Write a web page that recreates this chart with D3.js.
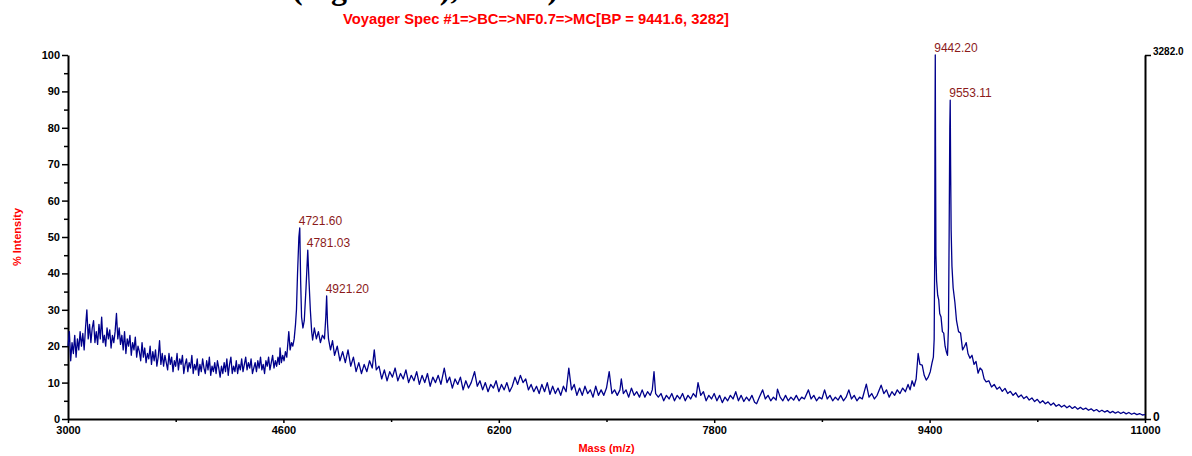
<!DOCTYPE html>
<html>
<head>
<meta charset="utf-8">
<script src="https://cdn.jsdelivr.net/npm/d3@7"></script>
<style>
  body { margin: 0; background: #fff; }
  svg { display: block; font-family: "Liberation Sans", Arial, sans-serif; }
  .tick text { font-weight: bold; font-size: 11px; fill: #000; }
</style>
</head>
<body>
<svg id="svgSpectrum" width="1192" height="456"></svg>
<script>
var titleText = "Voyager Spec #1=>BC=>NF0.7=>MC[BP = 9441.6, 3282]";
var headingText = "(Figure 3A), and B)";
var xLabel = "Mass (m/z)";
var yLabel = "% Intensity";
var massDomain = [3000, 11000];
var massTicks = [3000, 4600, 6200, 7800, 9400, 11000];
var massMinorTicks = [3800, 5400, 7000, 8600, 10200];
var intensityTicks = [0, 10, 20, 30, 40, 50, 60, 70, 80, 90, 100];
var intensityMinorTicks = [5, 15, 25, 35, 45, 55, 65, 75, 85, 95];
var basePeakCounts = "3282.0";

// labelled peaks: mass, % intensity
var peakMasses = [4721.60, 4781.03, 4921.20, 9442.20, 9553.11];
var peakIntensities = [52.5, 46.4, 33.8, 100, 87.6];

// spectrum: [mass, % intensity]
var spectrum = [
  [3000,20],[3010,24],[3020,16],[3030,21],[3040,18],[3050,23],[3060,17],[3070,22],[3080,19],[3090,24],
  [3100,20],[3110,23.5],[3120,19],[3130,25],[3140,30],[3150,22],[3160,26],[3170,21],[3180,25],[3190,27],
  [3200,21],[3210,24],[3220,20.5],[3230,26],[3240,22],[3250,28],[3260,21],[3270,23],[3280,20],[3290,25],
  [3300,22],[3310,24.5],[3320,19.5],[3330,23],[3340,21],[3350,24],[3360,29],[3370,22],[3380,25],[3390,20.5],
  [3400,23],[3410,19],[3420,24],[3430,18],[3440,22],[3450,20],[3460,23],[3470,17.5],[3480,21],[3490,19],
  [3500,22.5],[3510,17],[3520,20],[3530,18.5],[3540,16],[3550,21],[3560,17],[3570,19.5],[3580,15.5],[3590,18],
  [3600,16.5],[3610,20],[3620,15],[3630,18.5],[3640,16],[3650,19],[3660,14.5],[3670,17],[3680,21.5],[3690,15],
  [3700,18],[3710,14.5],[3720,17.5],[3730,15.5],[3740,13.5],[3750,18],[3760,15],[3770,17],[3780,13],[3790,16],
  [3800,14.5],[3810,18],[3820,13.5],[3830,16.5],[3840,15],[3850,17.5],[3860,12.5],[3870,15],[3880,16.5],[3890,13],
  [3900,15.5],[3910,14],[3920,17.5],[3930,12.5],[3940,15],[3950,13.5],[3960,16.5],[3970,12],[3980,15],[3990,13],
  [4000,16.5],[4010,14],[4020,12.5],[4030,16],[4040,13.5],[4050,17],[4060,12],[4070,14.5],[4080,13],[4090,15.5],
  [4100,12.5],[4110,16],[4120,14],[4130,11.5],[4140,14.5],[4150,12.5],[4160,15.5],[4170,13],[4180,16.5],[4190,12],
  [4200,15],[4210,17],[4220,12.5],[4230,14.5],[4240,13],[4250,16],[4260,12.5],[4270,15],[4280,13.5],[4290,16.5],
  [4300,13],[4310,15],[4320,17],[4330,13.5],[4340,15.5],[4350,14],[4360,16.5],[4370,12.5],[4380,14],[4390,15.5],
  [4400,13],[4410,16],[4420,14],[4430,17],[4440,13.5],[4450,15],[4460,12.5],[4470,16],[4480,14.5],[4490,17],
  [4500,13.5],[4510,15.5],[4520,17.5],[4530,14],[4540,16],[4550,14.5],[4560,17],[4570,15],[4575,19.5],[4585,15.5],
  [4595,17.5],[4605,16],[4615,18.5],[4625,17],[4640,24],[4650,19],[4660,21],[4670,20],[4680,22],[4690,26],
  [4697,30],[4705,40],[4715,50],
  [4721.6,52.5],[4728,38],[4735,28],[4745,25],[4755,27],[4768,36],[4781,46.4],[4790,38],[4800,30],[4810,24],
  [4817,21.7],[4830,25],[4845,22],[4860,24],[4875,21],[4890,23],[4905,22],[4915,28],[4921.2,33.8],[4928,26],
  [4935,22],[4950,19],[4965,21.5],[4980,17.5],[5000,20],[5020,16],[5040,18.5],[5060,15.5],[5080,19],[5100,14.5],
  [5120,17],[5140,13],[5160,15.5],[5180,12.5],[5200,15],[5220,13],[5240,16],[5260,14],[5275,19],[5290,13.5],
  [5310,14.5],[5330,11],[5350,13.5],[5370,10.5],[5390,13],[5410,11.5],[5430,14],[5450,10.5],[5470,12.5],[5490,11],
  [5510,13.5],[5530,10],[5550,12],[5570,10.5],[5590,13],[5610,9.5],[5630,12],[5650,10],[5670,12.5],[5690,9],
  [5710,11.5],[5730,10],[5750,12],[5770,9.5],[5795,14],[5815,10],[5835,11.5],[5855,8.5],[5875,11],[5895,9.5],
  [5915,11.5],[5935,8],[5955,10.5],[5975,8.5],[5995,10],[6020,13],[6040,9],[6060,10.5],[6080,8],[6100,10],
  [6120,7.5],[6140,9.5],[6160,8.5],[6180,10.5],[6200,7.5],[6220,9.5],[6240,8],[6260,10],[6280,7.5],[6300,9],
  [6320,11.5],[6340,9.5],[6360,12],[6380,10],[6400,11],[6420,8],[6440,9.5],[6460,7.5],[6480,9],[6500,7],
  [6520,9.5],[6540,7.5],[6560,10],[6580,6.8],[6600,9],[6620,7],[6640,8.5],[6660,6.5],[6680,9],[6700,7.5],
  [6720,14],[6740,8],[6760,9.5],[6780,6.5],[6800,8.5],[6820,6.5],[6840,9],[6860,7],[6880,8],[6900,6],
  [6920,9],[6940,6.5],[6960,8],[6980,6.5],[7000,8.5],[7020,13],[7040,7],[7060,8],[7080,6.5],[7100,8],
  [7110,11],[7125,7],[7145,8],[7165,6],[7185,8.5],[7205,6.5],[7225,7.5],[7245,6],[7265,8],[7285,6],
  [7305,7.5],[7325,6.5],[7340,8],[7353,13],[7365,7],[7385,6],[7405,7],[7425,5],[7445,6.5],[7465,5.5],
  [7485,7],[7505,5],[7525,6.5],[7545,5.5],[7565,7],[7585,5],[7605,6.5],[7625,5.5],[7645,7],[7665,6],
  [7680,10],[7700,6.5],[7720,7.5],[7740,5],[7760,6.5],[7780,5.5],[7800,7],[7820,5],[7840,6.5],[7860,4.5],
  [7880,6],[7900,5],[7920,6.5],[7940,5.5],[7960,7.5],[7980,5],[8000,6.5],[8020,4.8],[8040,6],[8060,5],
  [8080,6.5],[8100,4.6],[8115,4.2],[8135,6],[8160,8],[8180,5.5],[8200,6.5],[8220,5],[8240,6],[8260,5.2],
  [8270,8.2],[8290,6],[8310,5],[8330,6.5],[8350,5],[8370,6],[8390,5.2],[8410,6.5],[8430,5],[8450,6],
  [8470,5.5],[8500,8],[8520,5.5],[8540,6.5],[8560,5],[8580,6],[8600,5.5],[8620,8],[8640,5.5],[8660,6.5],
  [8680,5],[8700,6],[8720,5.2],[8740,6.5],[8760,5],[8780,6],[8800,8],[8820,5.5],[8840,6.5],[8860,5],
  [8880,6],[8900,5.5],[8930,9.6],[8950,6],[8970,7],[8990,5.5],[9010,6.5],[9040,9.3],[9060,7],[9080,8],
  [9100,6],[9120,7.5],[9140,6.5],[9160,8],[9180,7],[9200,8.5],[9220,7.5],[9240,9.5],[9255,8],[9270,10.5],
  [9285,9],[9300,11],[9315,18],[9328,15],[9345,14.8],[9360,12],[9375,10.7],[9390,11.5],[9405,13],[9418,15.4],
  [9428,17],[9434,22],[9438,45],[9440,80],[9442.2,100],[9444,75],[9447,45],[9452,38],[9460,34],[9468,32.7],
  [9475,29],[9485,28],[9495,24],[9505,23.6],[9515,20],[9525,18.4],[9533,17.5],[9540,25],[9545,50],[9550,80],
  [9553.1,87.6],[9556,70],[9560,52],[9566,42],[9575,36],[9588,32],[9600,27],[9615,24],[9630,23.6],[9645,19],
  [9660,20],[9672,21],[9685,18],[9700,16.7],[9715,17.5],[9730,15],[9745,15.8],[9760,12.6],[9775,14],[9790,13.4],
  [9805,11],[9820,10.2],[9840,10.5],[9860,8.8],[9880,9.5],[9900,8.2],[9920,8.8],[9940,7.6],[9960,8.4],[9980,7],
  [10000,7.6],[10020,6.5],[10040,7.2],[10060,6],[10080,6.6],[10100,5.6],[10120,6.2],[10140,5.2],[10160,5.8],[10180,4.8],
  [10200,5.4],[10220,4.4],[10240,5],[10260,4.2],[10280,4.7],[10300,3.8],[10320,4.4],[10340,3.5],[10360,4],[10380,3.3],
  [10400,3.8],[10420,3.1],[10440,3.6],[10460,2.9],[10480,3.4],[10500,2.7],[10520,3.2],[10540,2.6],[10560,3],[10580,2.4],
  [10600,2.8],[10620,2.2],[10640,2.6],[10660,2],[10680,2.4],[10700,1.9],[10720,2.3],[10740,1.7],[10760,2.1],[10780,1.6],
  [10800,2],[10820,1.5],[10840,1.9],[10860,1.4],[10880,1.8],[10900,1.3],[10920,1.6],[10940,1.2],[10960,1.5],[10980,1.1],
  [11000,1.2]
];

var margin = { top: 55, right: 47, bottom: 37, left: 68 };

function makeSpectrum(svgID) {
  /*   Draws the mass spectrum with its axes and peak labels.
       Args:
         svgID        The id of the svg.
  */
  var svg = d3.select("#svg" + svgID),
    width = +svg.attr("width"),
    height = +svg.attr("height"),
    plotW = width - margin.left - margin.right,
    plotH = height - margin.top - margin.bottom;

  var x = d3.scaleLinear().domain(massDomain).range([margin.left, margin.left + plotW]);
  var y = d3.scaleLinear().domain([0, 100]).range([margin.top + plotH, margin.top]);

  // heading of the page above the chart, cut off by the top edge:
  // only the descenders stay in view
  svg.append("text")
    .attr("x", 292).attr("y", -1)
    .style("font-family", "'Liberation Serif', 'Times New Roman', serif")
    .style("font-weight", "bold").style("font-size", "32px")
    .text(headingText);

  svg.append("text")
    .attr("x", 536).attr("y", 24)
    .attr("text-anchor", "middle")
    .attr("textLength", 386).attr("lengthAdjust", "spacingAndGlyphs")
    .style("font-weight", "bold").style("font-size", "14px").style("fill", "#ff0000")
    .text(titleText);

  // minor ticks first, the labelled axes on top
  svg.append("g")
    .attr("transform", "translate(0," + y(0) + ")")
    .call(d3.axisBottom(x).tickValues(massMinorTicks).tickSize(3).tickFormat(""))
    .call(function(g) { g.select(".domain").remove(); })
    .selectAll("line").attr("stroke-width", 1.5);

  svg.append("g")
    .attr("transform", "translate(" + x(massDomain[0]) + ",0)")
    .call(d3.axisLeft(y).tickValues(intensityMinorTicks).tickSize(4).tickFormat(""))
    .call(function(g) { g.select(".domain").remove(); })
    .selectAll("line").attr("stroke-width", 1.5);

  var xAxis = svg.append("g")
    .attr("transform", "translate(0," + y(0) + ")")
    .call(d3.axisBottom(x).tickValues(massTicks).tickSize(4).tickSizeOuter(0).tickPadding(3)
      .tickFormat(d3.format("d")));
  xAxis.select(".domain").attr("stroke-width", 2);
  xAxis.selectAll("line").attr("stroke-width", 1.5);

  var yAxis = svg.append("g")
    .attr("transform", "translate(" + x(massDomain[0]) + ",0)")
    .call(d3.axisLeft(y).tickValues(intensityTicks).tickSize(6).tickSizeOuter(0).tickPadding(2));
  yAxis.select(".domain").attr("stroke-width", 2);
  yAxis.selectAll("line").attr("stroke-width", 1.5);

  // right axis in counts
  var yRight = d3.scaleLinear().domain([0, +basePeakCounts]).range(y.range());
  var rAxis = svg.append("g")
    .attr("transform", "translate(" + x(massDomain[1]) + ",0)")
    .call(d3.axisRight(yRight).tickValues([0, +basePeakCounts]).tickSize(6).tickSizeOuter(0)
      .tickPadding(2).tickFormat(function(d) { return d === 0 ? "0" : basePeakCounts; }));
  rAxis.select(".domain").attr("stroke-width", 2);
  rAxis.selectAll("line").attr("stroke-width", 1.5);
  rAxis.selectAll("text").filter(function(d) { return d > 0; })
    .attr("dy", "-0.05em").style("font-size", "10px");
  rAxis.selectAll("text").filter(function(d) { return d === 0; })
    .attr("dy", "0.15em").style("font-size", "12px");

  svg.append("text")
    .attr("x", x(massDomain[0]) + plotW / 2).attr("y", height - 4)
    .attr("text-anchor", "middle")
    .style("font-weight", "bold").style("font-size", "11px").style("fill", "#ff0000")
    .text(xLabel);

  svg.append("text")
    .attr("transform", "translate(21," + (margin.top + plotH / 2) + ") rotate(-90)")
    .attr("text-anchor", "middle")
    .style("font-weight", "bold").style("font-size", "11px").style("fill", "#ff0000")
    .text(yLabel);

  var line = d3.line()
    .x(function(d) { return x(d[0]); })
    .y(function(d) { return y(d[1]); });

  svg.append("path")
    .datum(spectrum)
    .attr("d", line)
    .attr("fill", "none")
    .attr("stroke", "#00008b")
    .attr("stroke-width", 1.3)
    .attr("stroke-linejoin", "round");

  svg.selectAll(".peakLabel")
    .data(peakMasses)
    .enter().append("text")
    .attr("class", "peakLabel")
    .attr("x", function(d) { return x(d) - 1; })
    .attr("y", function(d, i) { return y(peakIntensities[i]) - 3; })
    .style("font-size", "12px").style("fill", "#8b1a1a")
    .text(function(d) { return d.toFixed(2); });
}

makeSpectrum("Spectrum");
</script>
</body>
</html>
